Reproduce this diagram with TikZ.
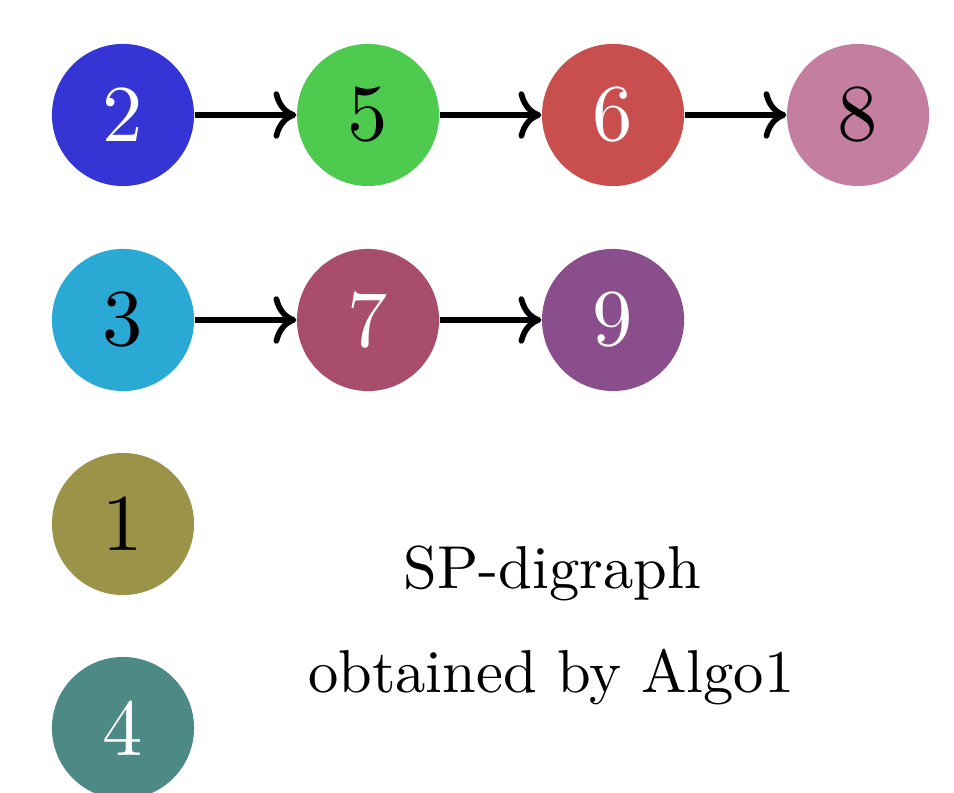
\documentclass[tikz,border=0pt]{standalone}
\usetikzlibrary{arrows.meta}
\definecolor{c2}{HTML}{3535D5}
\definecolor{c5}{HTML}{4ECA4E}
\definecolor{c6}{HTML}{C94E4E}
\definecolor{c8}{HTML}{C47E9F}
\definecolor{c3}{HTML}{2AA9D5}
\definecolor{c7}{HTML}{A94E6A}
\definecolor{c9}{HTML}{8B4E8D}
\definecolor{c1}{HTML}{9A9348}
\definecolor{c4}{HTML}{4D8A86}
\newcommand{\dig}[1]{\scalebox{2.81}{\fontsize{10}{12}\selectfont #1}}
\newcommand{\txt}[1]{\scalebox{2.11}{\fontsize{10}{12}\selectfont #1}}
\tikzset{
  vtx/.style={circle, minimum size=1.74cm, inner sep=0pt},
  lbl/.style={anchor=base},
  arr/.style={line width=0.07cm, -{Computer Modern Rightarrow[length=0.28cm, width=0.58cm]}}
}
\begin{document}
\begin{tikzpicture}
\useasboundingbox (0,0) rectangle (11.681,-9.698);
\node[vtx, fill=c2, text=white] (n2) at (1.506,-1.408) {\dig{2}};
\node[vtx, fill=c5, text=black] (n5) at (4.506,-1.408) {\dig{5}};
\node[vtx, fill=c6, text=white] (n6) at (7.506,-1.408) {\dig{6}};
\node[vtx, fill=c8, text=black] (n8) at (10.506,-1.408) {\dig{8}};
\node[vtx, fill=c3, text=black] (n3) at (1.506,-3.918) {\dig{3}};
\node[vtx, fill=c7, text=white] (n7) at (4.506,-3.918) {\dig{7}};
\node[vtx, fill=c9, text=white] (n9) at (7.506,-3.918) {\dig{9}};
\node[vtx, fill=c1, text=black] (n1) at (1.506,-6.416) {\dig{1}};
\node[vtx, fill=c4, text=white] (n4) at (1.506,-8.914) {\dig{4}};
\draw[arr] (n2) -- (n5);
\draw[arr] (n5) -- (n6);
\draw[arr] (n6) -- (n8);
\draw[arr] (n3) -- (n7);
\draw[arr] (n7) -- (n9);
\node[lbl] (t1) at (6.76,-7.20) {\txt{SP-digraph}};
\node[lbl] (t2) at (6.75,-8.485) {\txt{obtained by Algo1}};
\end{tikzpicture}
\end{document}
